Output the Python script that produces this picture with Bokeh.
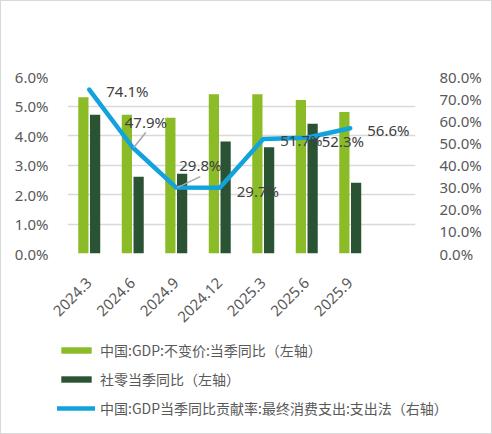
from math import pi

from bokeh.plotting import figure
from bokeh.layouts import column
from bokeh.models import (ColumnDataSource, Range1d, LinearAxis, FixedTicker,
                          PrintfTickFormatter, Legend, LegendItem)
from bokeh.transform import dodge
from bokeh.core.properties import value
from bokeh.embed import file_html
from bokeh.resources import INLINE

# data
quarters = ["2024.3", "2024.6", "2024.9", "2024.12", "2025.3", "2025.6", "2025.9"]
gdp_yoy = [5.3, 4.7, 4.6, 5.4, 5.4, 5.2, 4.8]            # 中国:GDP:不变价:当季同比 (%)
retail_yoy = [4.7, 2.6, 2.7, 3.8, 3.6, 4.4, 2.4]         # 社零当季同比 (%)
consumption_share = [74.1, 47.9, 29.8, 29.7, 51.7, 52.3, 56.6]  # 最终消费支出贡献率 (%)

left_ticks = [0, 1, 2, 3, 4, 5, 6]
right_ticks = [0, 10, 20, 30, 40, 50, 60, 70, 80]

series_names = ["中国:GDP:不变价:当季同比（左轴）",
                "社零当季同比（左轴）",
                "中国:GDP当季同比贡献率:最终消费支出:支出法（右轴）"]

LIGHT = "#8BBB27"
DARK = "#2A5333"
BLUE = "#12A3DC"
GREY_TXT = "#595959"
GRID = "#D9D9D9"
NUM_FONT = "Noto Sans"
CJK_FONT = "Noto Sans CJK SC"

xs = list(range(len(quarters)))

# label placement (pixels, screen): dx, dy per point
lbl_dx = [17, -8, 3, 17, 17, 15, 17]
lbl_dy = [1, -26, -23, 3, 1, 3, 2]
leaders = {1: (13, 15), 2: (24, 11)}   # point index -> leader end offset in px (right, up)

src = ColumnDataSource(data=dict(
    x=xs, gdp=gdp_yoy, retail=retail_yoy, share=consumption_share,
    lbl=[f"{v:.1f}%" for v in consumption_share], dx=lbl_dx, dy=lbl_dy,
))

p = figure(width=490, height=335, x_range=Range1d(-0.5, 7.5), y_range=Range1d(0, 6),
           output_backend="svg", toolbar_location=None, tools="",
           min_border_left=66, min_border_right=76, min_border_top=75, min_border_bottom=83)
p.frame_align = False
p.extra_y_ranges = {"right": Range1d(0, 80)}
p.outline_line_color = None

# bars
p.vbar(x=dodge("x", -0.135), top="gdp", width=0.235, source=src,
       fill_color=LIGHT, line_color=None)
p.vbar(x=dodge("x", 0.135), top="retail", width=0.235, source=src,
       fill_color=DARK, line_color=None)

# leader lines for the two moved labels
px_per_x = 348 / 8.0
px_per_r = 177 / 80.0
lx0, ly0, lx1, ly1 = [], [], [], []
for i, (ddx, ddy) in leaders.items():
    lx0.append(xs[i] + 1 / px_per_x)
    ly0.append(consumption_share[i])
    lx1.append(xs[i] + ddx / px_per_x)
    ly1.append(consumption_share[i] + ddy / px_per_r)

# line
p.line("x", "share", source=src, y_range_name="right", line_color=BLUE,
       line_width=4.5, line_cap="round", line_join="round")
p.segment(lx0, ly0, lx1, ly1, y_range_name="right", line_color="#A6A6A6", line_width=1.5)

p.text("x", "share", text="lbl", source=src, y_range_name="right",
       x_offset="dx", y_offset="dy", text_align="left", text_baseline="middle",
       text_font=value(NUM_FONT), text_font_size="15px", text_color="#404040")

# axes
ya = p.yaxis[0]
ya.ticker = FixedTicker(ticks=left_ticks)
ya.formatter = PrintfTickFormatter(format="%.1f%%")
ry = LinearAxis(y_range_name="right", ticker=FixedTicker(ticks=right_ticks),
                formatter=PrintfTickFormatter(format="%.1f%%"))
p.add_layout(ry, "right")
for ax in (ya, ry):
    ax.axis_line_color = None
    ax.major_tick_line_color = None
    ax.minor_tick_line_color = None
    ax.major_label_text_font = NUM_FONT
    ax.major_label_text_font_size = "15px"
    ax.major_label_text_color = GREY_TXT
ya.major_label_standoff = 13
ry.major_label_standoff = 18

xa = p.xaxis[0]
xa.ticker = FixedTicker(ticks=xs)
xa.major_label_overrides = {i: q for i, q in zip(xs, quarters)}
xa.major_label_orientation = pi / 4
xa.axis_line_color = None
xa.major_tick_line_color = None
xa.minor_tick_line_color = None
xa.major_label_standoff = 21
xa.major_label_text_font = NUM_FONT
xa.major_label_text_font_size = "15px"
xa.major_label_text_color = GREY_TXT

p.xgrid.grid_line_color = None
p.ygrid.ticker = FixedTicker(ticks=left_ticks)
p.ygrid.grid_line_color = GRID
p.ygrid.grid_line_width = 1.5

# legend lives in its own strip below the chart; stand-in glyphs hold no visible data
nan = float("nan")
lg = figure(width=490, height=97, x_range=Range1d(0, 1), y_range=Range1d(0, 1),
            output_backend="svg", toolbar_location=None, tools="",
            x_axis_location=None, y_axis_location=None,
            min_border=0, min_border_left=0, min_border_right=0,
            min_border_top=0, min_border_bottom=0)
lg.frame_align = False
lg.grid.visible = False
lg.outline_line_color = None
g1 = lg.vbar(x=[nan], top=[nan], width=0.1, fill_color=LIGHT, line_color=None)
g2 = lg.vbar(x=[nan], top=[nan], width=0.1, fill_color=DARK, line_color=None)
g3 = lg.line(x=[nan], y=[nan], line_color=BLUE, line_width=4.5, line_cap="round")

legend = Legend(items=[LegendItem(label=n, renderers=[r]) for n, r in zip(series_names, [g1, g2, g3])],
                location=(56, 15), orientation="vertical")
legend.padding = 0
legend.margin = 0
legend.spacing = 9
legend.glyph_width = 38
legend.glyph_height = 8
legend.label_height = 14
legend.label_standoff = 5
legend.border_line_color = None
legend.background_fill_alpha = 0
legend.label_text_font = CJK_FONT
legend.label_text_font_size = "14px"
legend.label_text_color = GREY_TXT
lg.add_layout(legend, "center")

layout = column(p, lg, styles={"border": "1px solid #D9D9D9"})

open("out.html", "w").write(file_html(layout, INLINE))
